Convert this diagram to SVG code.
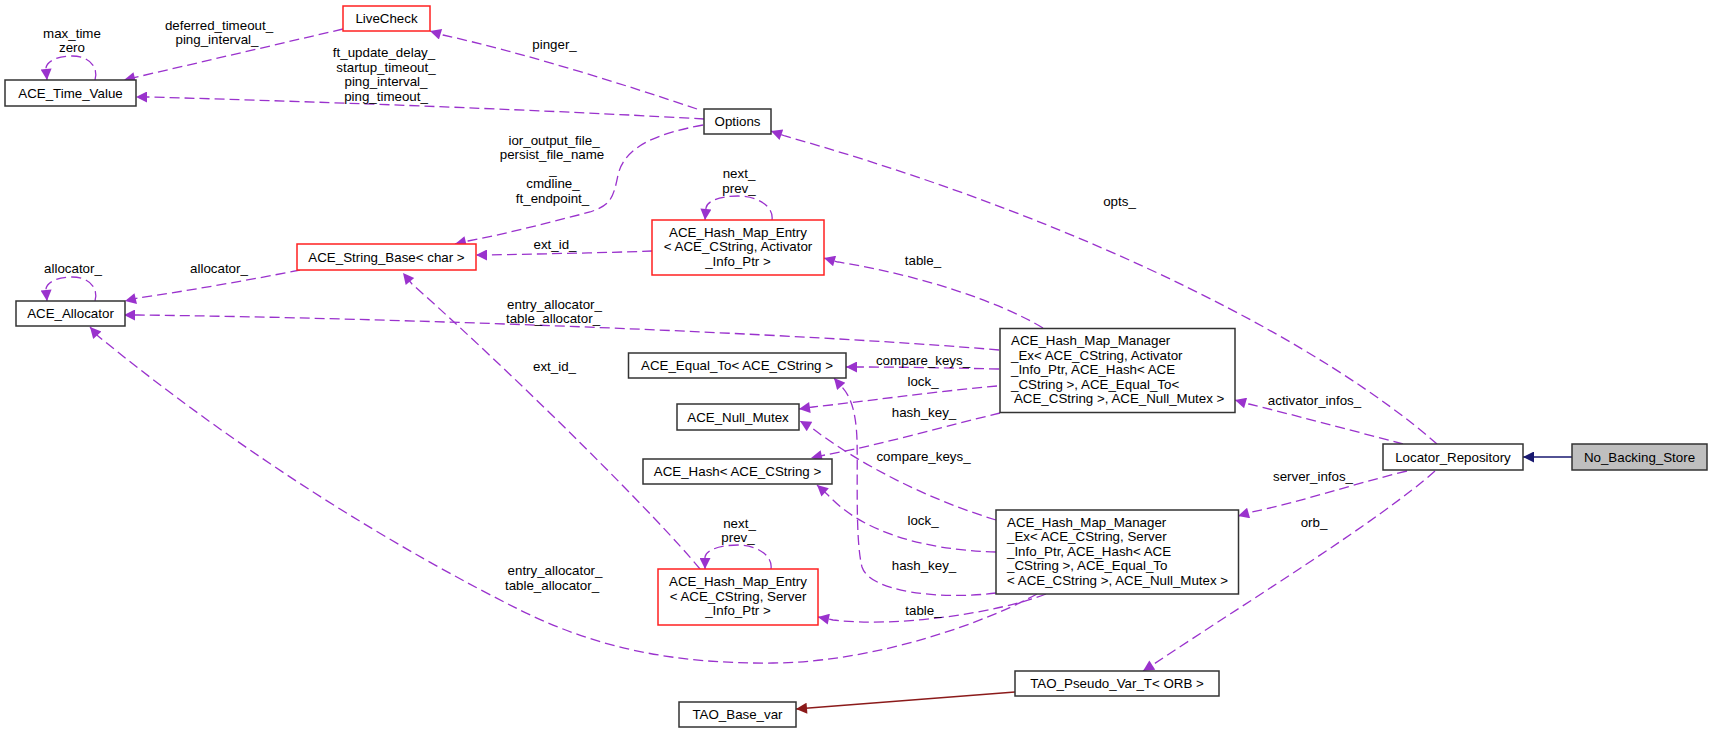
<svg xmlns="http://www.w3.org/2000/svg" width="1712" height="733" viewBox="0 0 1712 733">
<style>
text{font-family:"Liberation Sans",Arial,Helvetica,sans-serif;font-size:13.33px;fill:#000}
.n{fill:#fff;stroke:#333;stroke-width:1.5}
.r{fill:#fff;stroke:#ff2020;stroke-width:1.5}
.g{fill:#bfbfbf;stroke:#333;stroke-width:1.5}
.c{text-anchor:middle}
.e{fill:none;stroke:#9a32cd;stroke-width:1.3;stroke-dasharray:10,5;marker-end:url(#ap)}
.i{fill:none;stroke:#191970;stroke-width:1.3;marker-end:url(#ab)}
.f{fill:none;stroke:#8b1a1a;stroke-width:1.3;marker-end:url(#ar)}
</style>
<defs>
<marker id="ap" viewBox="0 0 10 10" refX="10" refY="5" markerWidth="15" markerHeight="11" markerUnits="userSpaceOnUse" orient="auto"><path d="M0,0 L10,5 L0,10 z" fill="#9a32cd"/></marker>
<marker id="ab" viewBox="0 0 10 10" refX="10" refY="5" markerWidth="15" markerHeight="11" markerUnits="userSpaceOnUse" orient="auto"><path d="M0,0 L10,5 L0,10 z" fill="#191970"/></marker>
<marker id="ar" viewBox="0 0 10 10" refX="10" refY="5" markerWidth="15" markerHeight="11" markerUnits="userSpaceOnUse" orient="auto"><path d="M0,0 L10,5 L0,10 z" fill="#8b1a1a"/></marker>
</defs>
<rect width="1712" height="733" fill="#fff"/>
<g id="connectors">
<path class="e" d="M95,80 C99,66 88,56 72,56 C58,56 47,61 46,68 L47,80"/>
<path class="e" d="M343,29 L124,80"/>
<path class="e" d="M704,119 C600,113 400,104 150,97 L136,97"/>
<path class="e" d="M697,109 C620,83 520,52 443,35 L430,31"/>
<path class="e" d="M703,125 C660,133 625,145 618,175 C613,200 610,205 590,212 C540,225 500,235 468,241 L455,244"/>
<path class="e" d="M772,220 C774,206 757,196 738,196 C720,196 707,201 706,208 L705,220"/>
<path class="e" d="M652,251 C600,253 530,254 490,255 L476,255"/>
<path class="e" d="M300,270 C250,280 180,292 138,298 L125,301"/>
<path class="e" d="M95,301 C99,287 88,277 72,277 C58,277 47,282 46,289 L47,301"/>
<path class="e" d="M999,350 C800,333 400,318 138,315 L124,315"/>
<path class="e" d="M1043,328 C1000,302 920,275 838,262 L824,258"/>
<path class="e" d="M999,369 C950,368 900,367 860,367 L846,367"/>
<path class="e" d="M997,386 C930,392 860,402 813,407 L799,409"/>
<path class="e" d="M1000,413 C950,425 880,445 825,455 L811,458"/>
<path class="e" d="M996,520 C930,500 860,465 812,428 L800,421"/>
<path class="e" d="M996,552 C920,550 860,530 828,495 L817,485"/>
<path class="e" d="M996,593 C940,600 870,592 862,567 C855,540 858,470 857,440 C856,410 850,395 841,386 L834,378"/>
<path class="e" d="M1046,594 C1000,612 900,628 833,620 L818,617"/>
<path class="e" d="M1037,594 C990,620 880,662 773,663 C680,664 600,650 520,610 C400,550 250,460 98,336 L90,327"/>
<path class="e" d="M771,569 C773,555 756,545 738,545 C720,545 706,550 705,557 L705,569"/>
<path class="e" d="M700,569 C660,520 520,380 412,284 L403,273"/>
<path class="e" d="M1403,444 C1350,430 1290,414 1249,404 L1235,400"/>
<path class="e" d="M1407,471 C1350,485 1300,502 1252,512 L1238,516"/>
<path class="e" d="M1437,444 C1330,350 1100,225 785,136 L771,131"/>
<path class="e" d="M1435,471 C1380,520 1250,600 1154,664 L1143,671"/>
<path class="i" d="M1572,457 L1523,457"/>
<path class="f" d="M1015,692 L796,709"/>
<text class="c" x="72" y="38">max_time</text>
<text class="c" x="72" y="52">zero</text>
<text class="c" x="219" y="29.5">deferred_timeout_</text>
<text class="c" x="217" y="44">ping_interval_</text>
<text class="c" x="384" y="57">ft_update_delay_</text>
<text class="c" x="386" y="71.5">startup_timeout_</text>
<text class="c" x="386" y="86">ping_interval_</text>
<text class="c" x="386" y="100.5">ping_timeout_</text>
<text class="c" x="554.5" y="49">pinger_</text>
<text class="c" x="554" y="144.5">ior_output_file_</text>
<text class="c" x="552" y="159">persist_file_name</text>
<text class="c" x="553" y="173.5">_</text>
<text class="c" x="553" y="188">cmdline_</text>
<text class="c" x="552.5" y="202.5">ft_endpoint_</text>
<text class="c" x="739" y="177.5">next_</text>
<text class="c" x="739" y="192.5">prev_</text>
<text class="c" x="555" y="248.5">ext_id_</text>
<text class="c" x="219" y="272.5">allocator_</text>
<text class="c" x="73" y="272.5">allocator_</text>
<text class="c" x="554.5" y="308.5">entry_allocator_</text>
<text class="c" x="553" y="323">table_allocator_</text>
<text class="c" x="554.5" y="371">ext_id_</text>
<text class="c" x="555" y="575">entry_allocator_</text>
<text class="c" x="552" y="589.5">table_allocator_</text>
<text class="c" x="923" y="264.5">table_</text>
<text class="c" x="1119.5" y="205.5">opts_</text>
<text class="c" x="923" y="364.5">compare_keys_</text>
<text class="c" x="923" y="385.5">lock_</text>
<text class="c" x="924" y="417">hash_key_</text>
<text class="c" x="1314.5" y="405">activator_infos_</text>
<text class="c" x="923.5" y="461">compare_keys_</text>
<text class="c" x="923" y="524.5">lock_</text>
<text class="c" x="924" y="569.5">hash_key_</text>
<text class="c" x="739.5" y="527.5">next_</text>
<text class="c" x="738" y="542">prev_</text>
<text class="c" x="923.5" y="614.5">table_</text>
<text class="c" x="1313" y="481">server_infos_</text>
<text class="c" x="1314" y="527">orb_</text>
</g>
<g id="ACE_Time_Value"><rect class="n" x="5" y="80" width="131" height="26"/><text class="c" x="70.5" y="97.5">ACE_Time_Value</text></g>
<g id="LiveCheck"><rect class="r" x="343" y="6" width="87" height="25"/><text class="c" x="386.5" y="23">LiveCheck</text></g>
<g id="Options"><rect class="n" x="704" y="109" width="67" height="25"/><text class="c" x="737.5" y="126">Options</text></g>
<g id="ACE_String_Base"><rect class="r" x="297" y="244" width="179" height="26"/><text class="c" x="386.5" y="261.5">ACE_String_Base&lt; char &gt;</text></g>
<g id="ACE_Allocator"><rect class="n" x="16" y="301" width="109" height="25"/><text class="c" x="70.5" y="318">ACE_Allocator</text></g>
<g id="ACE_Hash_Map_Entry_Activator"><rect class="r" x="652" y="220" width="172" height="55"/>
<text class="c" x="738" y="236.5">ACE_Hash_Map_Entry</text>
<text class="c" x="738" y="251">&lt; ACE_CString, Activator</text>
<text class="c" x="738" y="265.5">_Info_Ptr &gt;</text></g>
<g id="ACE_Hash_Map_Manager_Ex_Activator"><rect class="n" x="1000" y="328.5" width="235" height="84"/>
<text x="1011" y="345">ACE_Hash_Map_Manager</text>
<text x="1011" y="359.5">_Ex&lt; ACE_CString, Activator</text>
<text x="1011" y="374">_Info_Ptr, ACE_Hash&lt; ACE</text>
<text x="1011" y="388.5">_CString &gt;, ACE_Equal_To&lt;</text>
<text x="1011" y="403" xml:space="preserve"> ACE_CString &gt;, ACE_Null_Mutex &gt;</text></g>
<g id="ACE_Equal_To"><rect class="n" x="628.5" y="353" width="217.5" height="25"/><text class="c" x="737" y="370">ACE_Equal_To&lt; ACE_CString &gt;</text></g>
<g id="ACE_Null_Mutex"><rect class="n" x="677" y="404" width="122" height="26"/><text class="c" x="738" y="421.5">ACE_Null_Mutex</text></g>
<g id="ACE_Hash"><rect class="n" x="643" y="459" width="189" height="25"/><text class="c" x="737.5" y="476">ACE_Hash&lt; ACE_CString &gt;</text></g>
<g id="ACE_Hash_Map_Manager_Ex_Server"><rect class="n" x="996" y="510" width="242.5" height="84"/>
<text x="1007" y="526.5">ACE_Hash_Map_Manager</text>
<text x="1007" y="541">_Ex&lt; ACE_CString, Server</text>
<text x="1007" y="555.5">_Info_Ptr, ACE_Hash&lt; ACE</text>
<text x="1007" y="570">_CString &gt;, ACE_Equal_To</text>
<text x="1007" y="584.5">&lt; ACE_CString &gt;, ACE_Null_Mutex &gt;</text></g>
<g id="ACE_Hash_Map_Entry_Server"><rect class="r" x="658" y="569" width="160" height="56"/>
<text class="c" x="738" y="586">ACE_Hash_Map_Entry</text>
<text class="c" x="738" y="600.5">&lt; ACE_CString, Server</text>
<text class="c" x="738" y="615">_Info_Ptr &gt;</text></g>
<g id="Locator_Repository"><rect class="n" x="1383" y="444" width="140" height="26"/><text class="c" x="1453" y="461.5">Locator_Repository</text></g>
<g id="No_Backing_Store"><rect class="g" x="1572" y="444" width="135" height="26"/><text class="c" x="1639.5" y="461.5">No_Backing_Store</text></g>
<g id="TAO_Pseudo_Var_T"><rect class="n" x="1015" y="671" width="204" height="25"/><text class="c" x="1117" y="688">TAO_Pseudo_Var_T&lt; ORB &gt;</text></g>
<g id="TAO_Base_var"><rect class="n" x="679" y="702" width="117" height="25"/><text class="c" x="737.5" y="719">TAO_Base_var</text></g>
</svg>
